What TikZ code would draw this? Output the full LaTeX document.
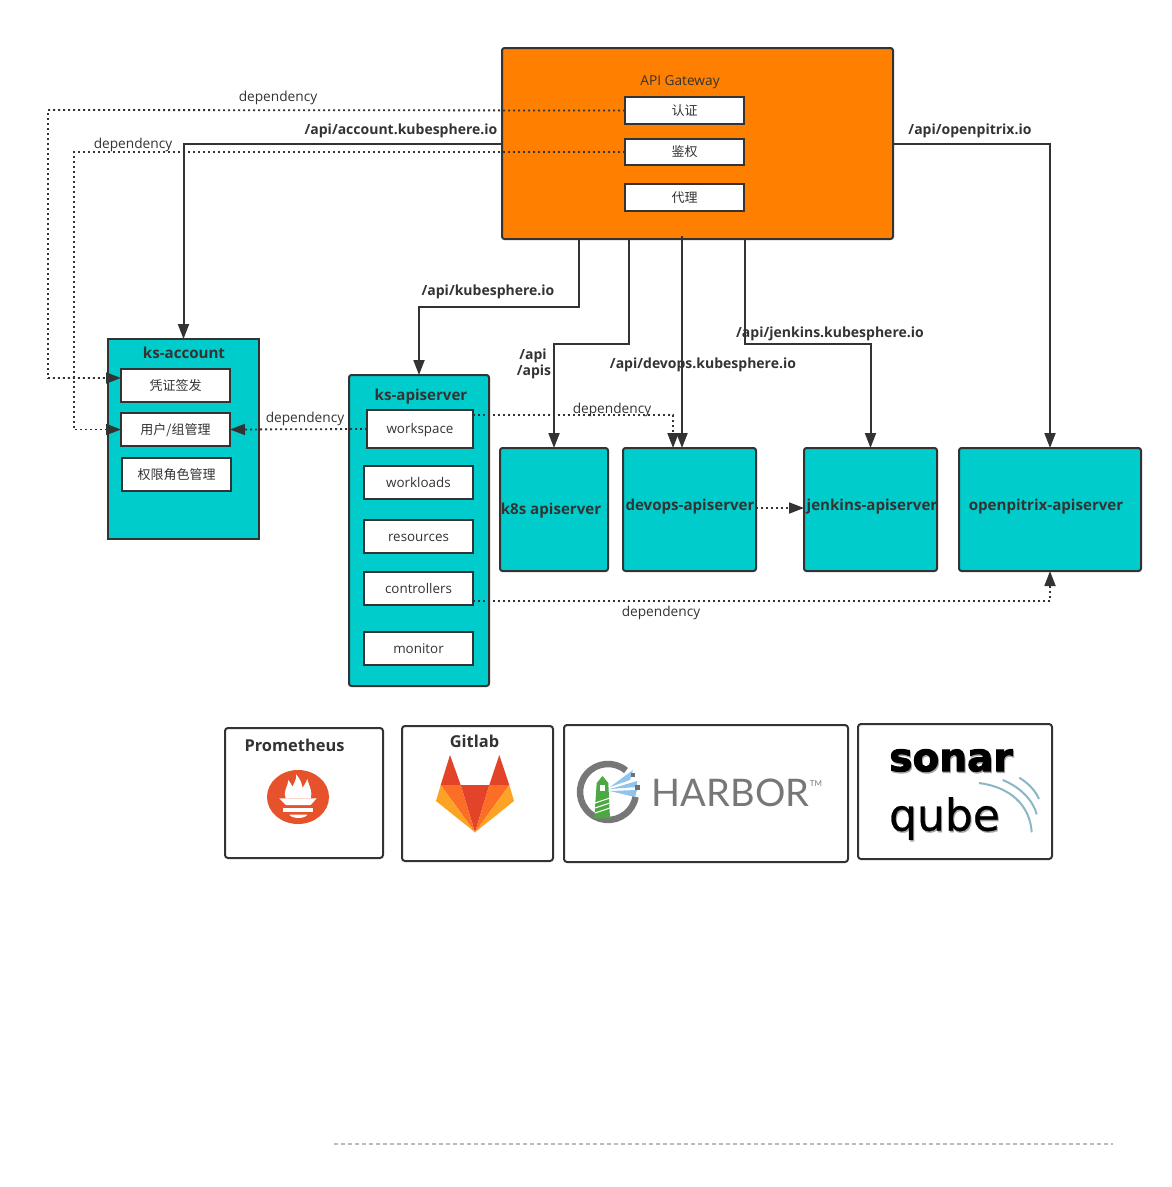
\documentclass[tikz,border=0pt]{standalone}
\usepackage{fontspec}
\setmainfont{Open Sans}
\newfontfamily\cjkfont{Noto Sans CJK SC}
\newfontfamily\harborfont{Lato}
\newfontfamily\sonarfont{DejaVu Sans}
\newfontfamily\sonarheavy[FakeBold=2.5]{DejaVu Sans Bold}
\newfontfamily\qubefont[FakeBold=0.6]{DejaVu Sans}
\usetikzlibrary{arrows.meta}

\definecolor{inkgray}{HTML}{333333}
\definecolor{gwfill}{HTML}{FF8000}
\definecolor{tealfill}{HTML}{00CCCC}
\definecolor{flameRed}{HTML}{E6522C}
\definecolor{foxDark}{HTML}{E24329}
\definecolor{foxMid}{HTML}{FC6D26}
\definecolor{foxLight}{HTML}{FCA326}
\definecolor{harborGray}{HTML}{777777}
\definecolor{harborGreen}{HTML}{4CA843}
\definecolor{harborBlue}{HTML}{8FC4EC}
\definecolor{sonarBlue}{HTML}{8AB6C6}
\definecolor{ruleGray}{HTML}{BBBBBB}

\tikzset{
	boxbase/.style={draw=inkgray,line width=2pt,inner sep=0pt,outer sep=0pt,text=inkgray,text height=10.5pt,text depth=1.5pt,font=\fontsize{13.4}{15}\selectfont},
	gatewaybox/.style={boxbase,fill=gwfill,rounded corners=2.5pt},
	subbox/.style={boxbase,fill=white},
	cjkbox/.style={subbox,font=\cjkfont\fontsize{13}{15}\selectfont},
	servicebox/.style={boxbase,fill=tealfill,rounded corners=2.5pt},
	logobox/.style={boxbase,fill=white,rounded corners=3pt},
	boldtext/.style={inner sep=0pt,text=inkgray,text height=10.5pt,text depth=1.5pt,font=\bfseries\fontsize{14}{16}\selectfont},
	titletext/.style={inner sep=0pt,text=inkgray,text height=11.5pt,text depth=1.5pt,font=\bfseries\fontsize{15.1}{18}\selectfont},
	logotitle/.style={titletext,font=\bfseries\fontsize{16.4}{18}\selectfont},
	plaintext/.style={inner sep=0pt,text=inkgray,text height=10.5pt,text depth=1.5pt,font=\fontsize{13.7}{15}\selectfont},
	flow/.style={draw=inkgray,line width=2pt,-{Triangle[length=15pt,width=11pt]}},
	depend/.style={draw=inkgray,line width=1.8pt,dash pattern=on 1.8pt off 3.2pt,-{Triangle[length=15pt,width=11pt]}}
}

\begin{document}
\begin{tikzpicture}[x=1pt,y=-1pt]
	\useasboundingbox (0,0) rectangle (1172,1187);

	% gateway
	\node[gatewaybox,minimum width=391pt,minimum height=191pt] (apiGateway) at (697.5,143.5) {};
	\node[plaintext] (gatewayTitle) at (680,81) {API Gateway};
	\node[cjkbox,minimum width=119pt,minimum height=27pt] (authBox) at (684.5,110.5) {认证};
	\node[cjkbox,minimum width=119pt,minimum height=26pt] (authzBox) at (684.5,152) {鉴权};
	\node[cjkbox,minimum width=119pt,minimum height=27pt] (proxyBox) at (684.5,197.5) {代理};

	% ks-account
	\node[boxbase,fill=tealfill,minimum width=151pt,minimum height=200pt] (ksAccount) at (183.5,439) {};
	\node[titletext] (accountTitle) at (184,353) {ks-account};
	\node[cjkbox,minimum width=109pt,minimum height=33pt] (certBox) at (175.5,385.5) {凭证签发};
	\node[cjkbox,minimum width=109pt,minimum height=33pt] (userBox) at (175.5,429.5) {用户/组管理};
	\node[cjkbox,minimum width=109pt,minimum height=33pt] (roleBox) at (176.5,474.5) {权限角色管理};

	% ks-apiserver
	\node[servicebox,minimum width=140pt,minimum height=311pt] (ksApiserver) at (419,530.5) {};
	\node[titletext] (apiserverTitle) at (421,395) {ks-apiserver};
	\node[subbox,minimum width=106pt,minimum height=38pt] (workspaceBox) at (420,429) {workspace};
	\node[subbox,minimum width=109pt,minimum height=33pt] (workloadsBox) at (418.5,482.5) {workloads};
	\node[subbox,minimum width=109pt,minimum height=33pt] (resourcesBox) at (418.5,536.5) {resources};
	\node[subbox,minimum width=109pt,minimum height=33pt] (controllersBox) at (418.5,588.5) {controllers};
	\node[subbox,minimum width=109pt,minimum height=33pt] (monitorBox) at (418.5,648.5) {monitor};

	% backends
	\node[servicebox,minimum width=108pt,minimum height=123pt] (k8sServer) at (554,509.5) {};
	\node[servicebox,minimum width=133pt,minimum height=123pt] (devopsServer) at (689.5,509.5) {};
	\node[servicebox,minimum width=133pt,minimum height=123pt] (jenkinsServer) at (870.5,509.5) {};
	\node[servicebox,minimum width=182pt,minimum height=123pt] (pitrixServer) at (1050,509.5) {};
	\node[titletext] (k8sTitle) at (551,509) {k8s apiserver};
	\node[titletext] (devopsTitle) at (690,505) {devops-apiserver};
	\node[titletext] (jenkinsTitle) at (872,505) {jenkins-apiserver};
	\node[titletext] (pitrixTitle) at (1046,505) {openpitrix-apiserver};

	% bends of the connectors
	\coordinate (kubeBend) at (579,307);
	\coordinate (coreBend) at (629,344);
	\coordinate (devopsIn) at (682,448);
	\coordinate (jenkinsBend) at (745,344);
	\coordinate (accountBend) at (183.5,144);
	\coordinate (pitrixBend) at (1050,144);
	\coordinate (authBend) at (48,110);
	\coordinate (certIn) at (121,378);
	\coordinate (authzBend) at (74,152);
	\coordinate (workspaceOut) at (473,415);
	\coordinate (devopsDep) at (673,448);
	\coordinate (controllersOut) at (473,601);
	\coordinate (devopsOut) at (756,508);
	\coordinate (jenkinsIn) at (804,508);

	% api routes
	\draw[flow] (apiGateway.west |- accountBend) -- (accountBend) -- (ksAccount.north);
	\draw[flow] (kubeBend |- apiGateway.south) -- (kubeBend) -- (kubeBend -| ksApiserver.north) -- (ksApiserver.north);
	\draw[flow] (coreBend |- apiGateway.south) -- (coreBend) -- (coreBend -| k8sServer.north) -- (k8sServer.north);
	\draw[flow] (devopsIn |- 0,236) -- (devopsIn);
	\draw[flow] (jenkinsBend |- apiGateway.south) -- (jenkinsBend) -- (jenkinsBend -| jenkinsServer.north) -- (jenkinsServer.north);
	\draw[flow] (apiGateway.east |- pitrixBend) -- (pitrixBend) -- (pitrixServer.north);

	% dependencies
	\draw[depend] (authBox.west) -- (authBend) -- (authBend |- certIn) -- (certIn);
	\draw[depend] (authzBox.west) -- (authzBend) -- (authzBend |- userBox.west) -- (userBox.west);
	\draw[depend] (workspaceBox.west) -- (userBox.east);
	\draw[depend] (workspaceOut) -- (workspaceOut -| devopsDep) -- (devopsDep);
	\draw[depend] (devopsOut) -- (jenkinsIn);
	\draw[depend] (controllersOut) -- (controllersOut -| pitrixServer.south) -- (pitrixServer.south);

	% route labels
	\node[boldtext] (accountRoute) at (401,130) {/api/account.kubesphere.io};
	\node[boldtext] (kubeRoute) at (488,291) {/api/kubesphere.io};
	\node[boldtext] (apiRoute) at (533,355) {/api};
	\node[boldtext] (apisRoute) at (534,371) {/apis};
	\node[boldtext] (devopsRoute) at (703,364) {/api/devops.kubesphere.io};
	\node[boldtext] (jenkinsRoute) at (830,333) {/api/jenkins.kubesphere.io};
	\node[boldtext] (pitrixRoute) at (970,130) {/api/openpitrix.io};

	% dependency labels
	\node[plaintext] (depAuth) at (278,97) {dependency};
	\node[plaintext] (depAuthz) at (133,144) {dependency};
	\node[plaintext] (depUser) at (305,418) {dependency};
	\node[plaintext] (depDevops) at (612,409) {dependency};
	\node[plaintext] (depPitrix) at (661,612) {dependency};

	% logo boxes
	\node[logobox,minimum width=158pt,minimum height=130pt] (prometheusBox) at (304,793) {};
	\node[logobox,minimum width=151pt,minimum height=135pt] (gitlabBox) at (477.5,793.5) {};
	\node[logobox,minimum width=284pt,minimum height=137pt] (harborBox) at (706,793.5) {};
	\node[logobox,minimum width=194pt,minimum height=135pt] (sonarBox) at (955,791.5) {};
	\node[logotitle] (prometheusTitle) at (294.5,746) {Prometheus};
	\node[logotitle] (gitlabTitle) at (474.5,742) {Gitlab};

	% prometheus logo
	\fill[flameRed] (298,797) ellipse [x radius=31pt,y radius=27pt];
	\fill[white] (285.7,798.3) .. controls (283,790) and (288,787) .. (288.3,780)
		.. controls (291,784) and (292,785) .. (292.5,787)
		.. controls (294,782) and (297,780) .. (296,774.3)
		.. controls (301,780) and (302,784) .. (302.5,788)
		.. controls (304,785) and (306,783) .. (307.3,779)
		.. controls (309,786) and (313,792) .. (310.7,798.3) -- cycle;
	\fill[white] (279.3,798.3) -- (316.7,798.3) -- (310.7,805) -- (286,805) -- cycle;
	\fill[white] (283.3,807.7) rectangle (312.7,812.3);
	\fill[white] (289.3,814.7) -- (307.3,814.7) .. controls (305,819) and (292,819) .. (289.3,814.7) -- cycle;

	% gitlab logo
	\fill[foxDark] (440.7,785) -- (450,755) -- (460.7,785) -- cycle;
	\fill[foxDark] (489.3,785) -- (499.3,755) -- (509.3,785) -- cycle;
	\fill[foxDark] (460.7,785) -- (489.3,785) -- (475,832.3) -- cycle;
	\fill[foxMid] (440.7,785) -- (460.7,785) -- (475,832.3) -- cycle;
	\fill[foxMid] (489.3,785) -- (509.3,785) -- (475,832.3) -- cycle;
	\fill[foxLight] (440.7,785) -- (436,801) -- (475,832.3) -- cycle;
	\fill[foxLight] (509.3,785) -- (514,801) -- (475,832.3) -- cycle;

	% harbor logo
	\draw[harborGray,line width=6.5pt] (626,770.5) arc [start angle=50,end angle=350,radius=28pt];
	\fill[harborBlue] (610,787) -- (633,770) -- (630,780) -- cycle;
	\fill[harborBlue] (610,789) -- (637,781) -- (637,787) -- cycle;
	\fill[harborBlue] (610,791) -- (637,790) -- (635,797) -- cycle;
	\fill[inkgray!70] (631,773) rectangle (635,777);
	\fill[inkgray!70] (635,785) rectangle (640,790);
	\fill[harborGreen] (596.7,783) -- (602.5,776) -- (608.3,783) -- (610,818.3) -- (594.3,818.3) -- cycle;
	\fill[white] (600,785) rectangle (605,791);
	\draw[white,line width=1pt] (595,803) -- (610,798) (595,808) -- (610,803) (595,813) -- (610,808);
	\node[inner sep=0pt,text=harborGray,font=\harborfont\fontsize{38}{38}\selectfont] (harborText) at (730.5,793) {HARBOR};
	\node[inner sep=0pt,text=harborGray,font=\harborfont\fontsize{8}{8}\selectfont] (harborMark) at (816,784) {TM};

	% sonarqube logo
	\node[inner sep=0pt,text=gray!70,font=\sonarheavy\fontsize{39}{39}\selectfont] (sonarShadow) at (952,762) {sonar};
	\node[inner sep=0pt,text=black,font=\sonarheavy\fontsize{39}{39}\selectfont] (sonarText) at (951,760.5) {sonar};
	\node[inner sep=0pt,text=gray!70,font=\qubefont\fontsize{44}{44}\selectfont] (qubeShadow) at (945.5,820) {qube};
	\node[inner sep=0pt,text=black,font=\qubefont\fontsize{44}{44}\selectfont] (qubeText) at (944.5,818.5) {qube};
	\draw[sonarBlue,line width=2pt] (979,783) .. controls (1010,787) and (1030,805) .. (1031.7,832.3);
	\draw[sonarBlue,line width=2pt] (1002.7,780) .. controls (1020,787) and (1033,800) .. (1036.7,814.3);
	\draw[sonarBlue,line width=2pt] (1019.3,777.7) .. controls (1028,783) and (1035,790) .. (1039,799);

	% rule at the bottom
	\draw[ruleGray,line width=1.6pt,dash pattern=on 4pt off 3pt] (334,1144) -- (1113,1144);

\end{tikzpicture}
\end{document}
